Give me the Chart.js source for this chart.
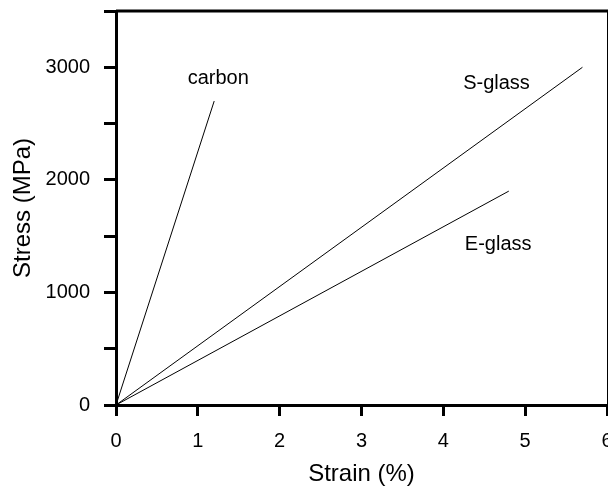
<!DOCTYPE html>
<html>
<head>
<meta charset="utf-8">
<script src="https://cdn.jsdelivr.net/npm/chart.js@4.4.1/dist/chart.umd.min.js"></script>
<style>
  html, body { margin: 0; padding: 0; background: #fff; }
</style>
</head>
<body>
<canvas id="stressStrain" width="608" height="486"></canvas>
<script>
// values: strain in %, stress in MPa
const carbonStrain = [0, 1.2];
const carbonStress = [0, 2700];
const sGlassStrain = [0, 5.7];
const sGlassStress = [0, 3000];
const eGlassStrain = [0, 4.8];
const eGlassStress = [0, 1900];

// where the fibre names sit, in data units
const fibreNames = ["carbon", "S-glass", "E-glass"];
const nameStrain = [1.25, 4.65, 4.67];
const nameStress = [2900, 2860, 1430];

const fontFamily = "'Liberation Sans', Arial, sans-serif";

function toPoints(xs, ys) {
  return xs.map((x, i) => ({ x: x, y: ys[i] }));
}

function lineSet(label, xs, ys) {
  return {
    label: label,
    data: toPoints(xs, ys),
    showLine: true,
    borderColor: "#000",
    borderWidth: 1,
    pointRadius: 0,
    fill: false,
  };
}

// top thick frame line, thin right line and the fibre names
const framePlugin = {
  id: "frame",
  afterDraw(chart) {
    const { ctx, chartArea, scales } = chart;
    ctx.save();
    ctx.strokeStyle = "#000";
    ctx.lineWidth = 3;
    ctx.beginPath();
    ctx.moveTo(chartArea.left, chartArea.top);
    ctx.lineTo(chartArea.right + 1, chartArea.top);
    ctx.stroke();
    ctx.lineWidth = 1;
    ctx.beginPath();
    ctx.moveTo(chartArea.right + 0.5, chartArea.top);
    ctx.lineTo(chartArea.right + 0.5, chartArea.bottom);
    ctx.stroke();

    ctx.fillStyle = "#000";
    ctx.font = "20px " + fontFamily;
    ctx.textAlign = "center";
    ctx.textBaseline = "middle";
    fibreNames.forEach((name, i) => {
      const px = scales.x.getPixelForValue(nameStrain[i]);
      const py = scales.y.getPixelForValue(nameStress[i]);
      ctx.fillText(name, px, py);
    });
    ctx.restore();
  },
};

const config = {
  type: "scatter",
  data: {
    datasets: [
      lineSet("carbon", carbonStrain, carbonStress),
      lineSet("S-glass", sGlassStrain, sGlassStress),
      lineSet("E-glass", eGlassStrain, eGlassStress),
    ],
  },
  options: {
    responsive: false,
    animation: false,
    layout: { padding: { top: 11, right: 1, left: 0, bottom: 0 } },
    plugins: {
      legend: { display: false },
      tooltip: { enabled: false },
    },
    scales: {
      x: {
        type: "linear",
        min: 0,
        max: 6,
        afterFit(scale) {
          scale.height = 81;
          scale.paddingLeft = 0;
          scale.paddingRight = 0;
        },
        ticks: {
          stepSize: 1,
          color: "#000",
          padding: 13,
          maxRotation: 0,
          font: { family: fontFamily, size: 20 },
        },
        grid: {
          drawOnChartArea: false,
          drawTicks: true,
          tickLength: 11,
          lineWidth: 3,
          color: "#000",
        },
        border: { display: true, width: 3, color: "#000" },
        title: {
          display: true,
          text: "Strain (%)",
          color: "#000",
          padding: { top: 0, bottom: 0 },
          font: { family: fontFamily, size: 24, lineHeight: 1 },
        },
      },
      y: {
        type: "linear",
        min: 0,
        max: 3500,
        afterFit(scale) {
          scale.width = 116;
          scale.paddingTop = 0;
          scale.paddingBottom = 0;
        },
        ticks: {
          stepSize: 500,
          color: "#000",
          padding: 14,
          font: { family: fontFamily, size: 20 },
          callback: (v) => (v % 1000 === 0 ? String(v) : ""),
        },
        grid: {
          drawOnChartArea: false,
          drawTicks: true,
          tickLength: 12,
          lineWidth: 3,
          color: "#000",
        },
        border: { display: true, width: 3, color: "#000" },
        title: {
          display: true,
          text: "Stress (MPa)",
          color: "#000",
          padding: { top: 9, bottom: 0 },
          font: { family: fontFamily, size: 24 },
        },
      },
    },
  },
  plugins: [framePlugin],
};

new Chart(document.getElementById("stressStrain"), config);
</script>
</body>
</html>
